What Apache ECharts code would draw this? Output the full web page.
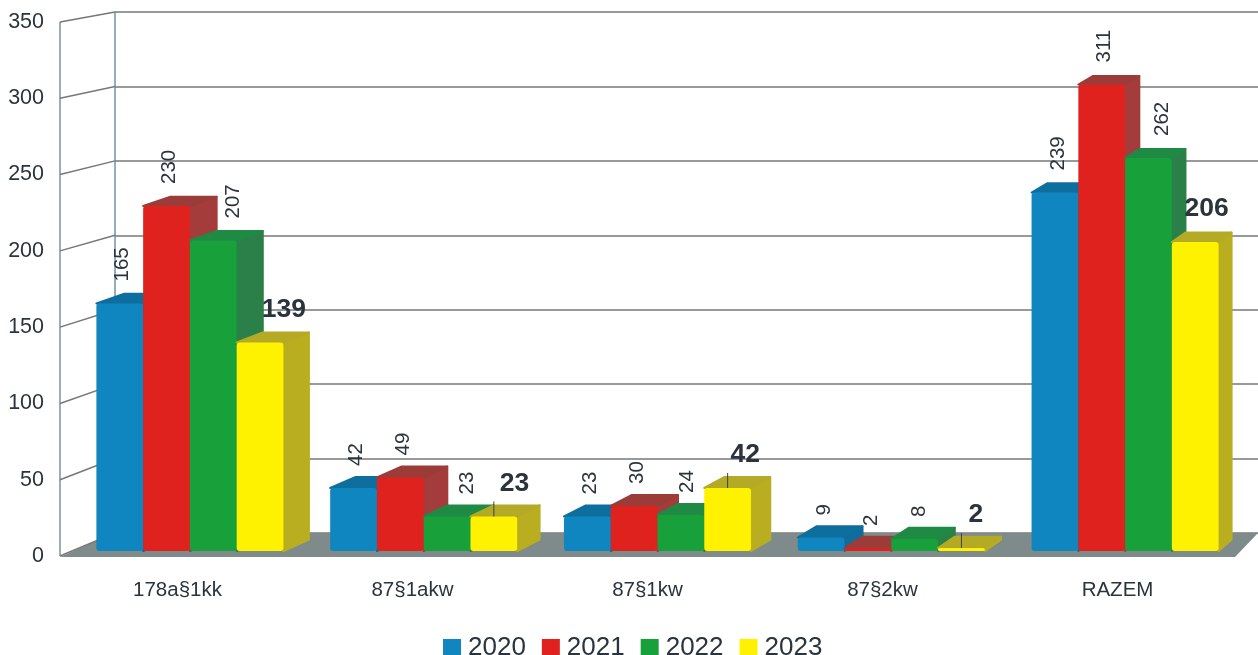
<!DOCTYPE html>
<html>
<head>
<meta charset="utf-8">
<style>
  html, body { margin: 0; padding: 0; background: #fff; }
  #chart { width: 1258px; height: 655px; }
</style>
<script src="https://cdn.jsdelivr.net/npm/echarts@6/dist/echarts.min.js"></script>
</head>
<body>
<div id="chart"></div>
<script>
const categories = ['178a§1kk', '87§1akw', '87§1kw', '87§2kw', 'RAZEM'];
const years = ['2020', '2021', '2022', '2023'];
const values2020 = [165, 42, 23, 9, 239];
const values2021 = [230, 49, 30, 2, 311];
const values2022 = [207, 23, 24, 8, 262];
const values2023 = [139, 23, 42, 2, 206];
const yTicks = [0, 50, 100, 150, 200, 250, 300, 350];

const font = '"Liberation Sans", Arial, sans-serif';
const textColor = '#2b343c';

// front face, side face, top face
const palette = [
  ['#0f86c0', '#0f6c9c', '#0e6e9e'],
  ['#e0221e', '#a33c3a', '#9c3c38'],
  ['#18a03a', '#2a8048', '#1f8a44'],
  ['#fff200', '#b8ae20', '#b5aa25']
];

// the 2022 labels sit further right, over the side of the bar
const greenLabelShift = [17, 17, 3, 2, 11];

const chart = echarts.init(document.getElementById('chart'));

// the 3D depth shrinks to the right and gets flatter towards the top
const depthX = x => 29.3 - 0.0134 * x;
const depthY = y => -(8.5 + 0.006 * (y - 80));

const renderBar = (seriesIdx) => (params, api) => {
  const cat = api.value(0);
  const val = api.value(1);
  const base = api.coord([cat, 0])[1];
  const top = api.coord([cat, val])[1];
  const center = api.coord([cat, 0])[0];
  const w = api.size([1, 0])[0] * 0.2;
  const x0 = center + (seriesIdx - 2) * w;
  const x1 = x0 + w;
  const dyTop = depthY(top);
  const dyBase = depthY(base);
  const c = palette[seriesIdx];
  const children = [
    {
      type: 'polygon',
      shape: { points: [[x1, top], [x1 + depthX(x1), top + dyTop], [x1 + depthX(x1), base + dyBase], [x1, base]] },
      style: { fill: c[1], stroke: c[1], lineWidth: 2, lineJoin: 'round' }
    },
    {
      type: 'polygon',
      shape: { points: [[x0, top], [x0 + depthX(x0), top + dyTop], [x1 + depthX(x1), top + dyTop], [x1, top]] },
      style: { fill: c[2], stroke: c[2], lineWidth: 2, lineJoin: 'round' }
    },
    {
      type: 'rect',
      shape: { x: x0, y: top, width: w, height: base - top, r: 3 },
      style: { fill: c[0] }
    }
  ];
  const mid = (x0 + x1) / 2;
  if (seriesIdx === 3) {
    // 2023 is set bold and horizontal, small bars keep a leader line
    if (val < 50) {
      children.push({
        type: 'line',
        shape: { x1: mid, y1: top, x2: mid, y2: top - 15 },
        style: { stroke: '#3a4248', lineWidth: 1 }
      });
    }
    children.push({
      type: 'text',
      x: mid + depthX(mid) - 2,
      y: top - 33,
      style: {
        text: String(val), font: 'bold 26.5px ' + font, fill: textColor,
        align: 'center', verticalAlign: 'middle'
      }
    });
  } else {
    children.push({
      type: 'text',
      x: mid + 3 + (seriesIdx === 2 ? greenLabelShift[cat] : 0),
      y: top - 22,
      rotation: Math.PI / 2,
      style: {
        text: String(val), font: '20.5px ' + font, fill: textColor,
        align: 'left', verticalAlign: 'middle'
      }
    });
  }
  return { type: 'group', children };
};

// floor, left wall and the slanted grid lines between front axis and back wall
const renderWall = (params, api) => {
  const v = api.value(0);
  const rect = params.coordSys;
  const backY = rect.y + rect.height - (v / 350) * rect.height;
  const frontY = chart.convertToPixel({ yAxisIndex: 0 }, v);
  const children = [];
  if (v === 0) {
    children.push({
      type: 'polygon',
      shape: { points: [[rect.x, backY], [rect.x + rect.width, backY], [1235, frontY + 1], [60, frontY + 1]] },
      style: { fill: '#7f8a8b' }
    });
    children.push({
      type: 'line',
      shape: { x1: 60, y1: frontY, x2: 60, y2: chart.convertToPixel({ yAxisIndex: 0 }, 350) },
      style: { stroke: '#7d929c', lineWidth: 1.5 }
    });
    children.push({
      type: 'line',
      shape: { x1: rect.x, y1: backY, x2: rect.x, y2: rect.y },
      style: { stroke: '#6f93a8', lineWidth: 1.5 }
    });
  }
  children.push({
    type: 'line',
    shape: { x1: 60, y1: frontY, x2: rect.x, y2: backY },
    style: { stroke: '#777', lineWidth: 1.5 }
  });
  return { type: 'group', children };
};

const hiddenAxis = { show: false };

const option = {
  animation: false,
  backgroundColor: '#fff',
  textStyle: { fontFamily: font },
  legend: {
    data: years,
    left: 438,
    top: 630,
    icon: 'rect',
    itemWidth: 18,
    itemHeight: 18,
    itemGap: 16,
    textStyle: { fontSize: 26, color: textColor, fontFamily: font, padding: [0, 0, 0, 2] }
  },
  grid: [
    { left: 60, top: 22, width: 1175, height: 534 },
    { left: 115, right: 0, top: 12, height: 521 },
    { left: 73, top: 26, width: 1169, height: 525 }
  ],
  xAxis: [
    {
      gridIndex: 0, type: 'category', data: categories,
      axisLine: { show: false }, axisTick: { show: false },
      axisLabel: { fontSize: 20.5, color: textColor, margin: 24, fontFamily: font }
    },
    { gridIndex: 1, type: 'category', data: categories, ...hiddenAxis },
    { gridIndex: 2, type: 'category', data: categories, ...hiddenAxis }
  ],
  yAxis: [
    {
      gridIndex: 0, type: 'value', min: 0, max: 350, interval: 50,
      axisLine: { show: false }, axisTick: { show: false }, splitLine: { show: false },
      axisLabel: { fontSize: 21.5, color: textColor, margin: 16, fontFamily: font, padding: [2, 0, 0, 0] }
    },
    {
      gridIndex: 1, type: 'value', min: 0, max: 350, interval: 50,
      axisLine: { show: false }, axisTick: { show: false }, axisLabel: { show: false },
      splitLine: { show: true, lineStyle: { color: '#777', width: 1.5 } }
    },
    { gridIndex: 2, type: 'value', min: 0, max: 350, ...hiddenAxis }
  ],
  series: [
    {
      type: 'custom', name: 'wall', xAxisIndex: 1, yAxisIndex: 1, z: 1, silent: true,
      data: yTicks.map(v => [v]),
      encode: { y: 0 },
      renderItem: renderWall
    },
    ...[values2020, values2021, values2022, values2023].map((vals, idx) => ({
      type: 'custom',
      name: years[idx],
      xAxisIndex: 2,
      yAxisIndex: 2,
      z: 2,
      itemStyle: { color: palette[idx][0] },
      data: vals.map((v, i) => [i, v]),
      encode: { x: 0, y: 1 },
      renderItem: renderBar(idx)
    }))
  ]
};

chart.setOption(option);
</script>
</body>
</html>
